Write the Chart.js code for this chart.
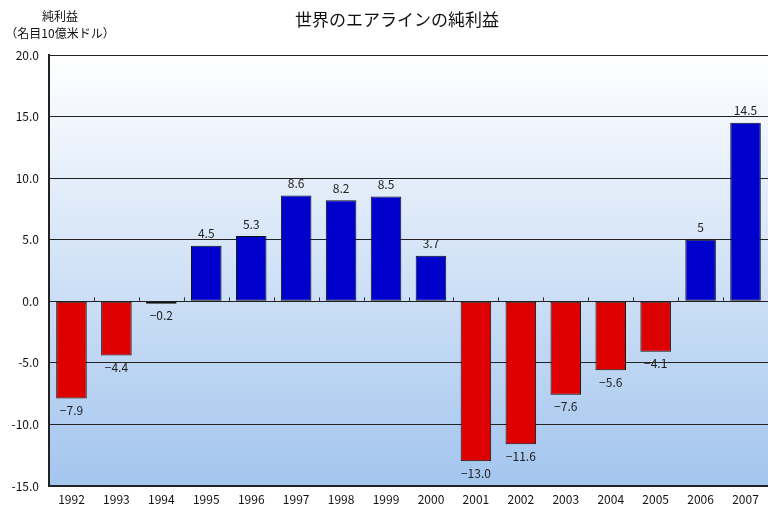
<!DOCTYPE html>
<html>
<head>
<meta charset="utf-8">
<script src="https://cdn.jsdelivr.net/npm/chart.js@4/dist/chart.umd.min.js"></script>
<style>
  html, body { margin: 0; padding: 0; background: #fff; }
  #wrap { width: 768px; height: 508px; }
</style>
</head>
<body>
<div id="wrap"><canvas id="chart"></canvas></div>
<script>
const years = ["1992", "1993", "1994", "1995", "1996", "1997", "1998", "1999",
  "2000", "2001", "2002", "2003", "2004", "2005", "2006", "2007"];
const netProfit = [-7.9, -4.4, -0.2, 4.5, 5.3, 8.6, 8.2, 8.5,
  3.7, -13.0, -11.6, -7.6, -5.6, -4.1, 5.0, 14.5];
const valueLabels = ["\u22127.9", "\u22124.4", "\u22120.2", "4.5", "5.3", "8.6", "8.2", "8.5",
  "3.7", "\u221213.0", "\u221211.6", "\u22127.6", "\u22125.6", "\u22124.1", "5", "14.5"];
const yTicks = [20, 15, 10, 5, 0, -5, -10, -15];

const FONT = "'Noto Sans CJK JP', 'Noto Sans', sans-serif";

const backdrop = {
  id: "backdrop",
  beforeDraw(chart) {
    const { ctx, chartArea: a } = chart;
    const g = ctx.createLinearGradient(0, a.top, 0, a.bottom);
    g.addColorStop(0, "#ffffff");
    g.addColorStop(1, "#a3c5ee");
    ctx.save();
    ctx.fillStyle = g;
    ctx.fillRect(a.left, a.top, a.right - a.left, a.bottom - a.top);
    ctx.restore();
  },
  afterDatasetsDraw(chart) {
    const { ctx, chartArea: a } = chart;
    const x = chart.scales.x, y = chart.scales.y;
    const y0 = y.getPixelForValue(0);
    ctx.save();
    // little ticks on the zero line between categories
    ctx.strokeStyle = "#333";
    ctx.lineWidth = 1;
    const step = x.getPixelForValue(1) - x.getPixelForValue(0);
    for (let i = 1; i < years.length; i++) {
      const px = Math.round(x.getPixelForValue(i) - step / 2) + 0.5;
      ctx.beginPath();
      ctx.moveTo(px, y0);
      ctx.lineTo(px, y0 - 4);
      ctx.stroke();
    }
    // bottom axis line
    ctx.strokeStyle = "#222";
    ctx.lineWidth = 2;
    ctx.beginPath();
    ctx.moveTo(a.left, a.bottom);
    ctx.lineTo(a.right, a.bottom);
    ctx.stroke();
    // value labels
    ctx.fillStyle = "#222";
    ctx.font = "12px " + FONT;
    ctx.textAlign = "center";
    const meta = chart.getDatasetMeta(0);
    meta.data.forEach((bar, i) => {
      if (netProfit[i] >= 0) {
        ctx.textBaseline = "bottom";
        ctx.fillText(valueLabels[i], bar.x, bar.y - 6);
      } else {
        ctx.textBaseline = "top";
        ctx.fillText(valueLabels[i], bar.x, bar.y + 6);
      }
    });
    // titles
    ctx.fillStyle = "#111";
    ctx.font = "17px " + FONT;
    ctx.textBaseline = "middle";
    ctx.fillText("世界のエアラインの純利益", 397, 20);
    ctx.font = "12px " + FONT;
    ctx.fillText("純利益", 60, 16);
    ctx.fillText("（名目10億米ドル）", 60, 33);
    ctx.restore();
  }
};

new Chart(document.getElementById("chart"), {
  type: "bar",
  data: {
    labels: years,
    datasets: [{
      data: netProfit,
      backgroundColor: netProfit.map(v => v < 0 ? "#dd0000" : "#0000cc"),
      borderColor: "#111",
      borderWidth: 1,
      borderSkipped: false,
      categoryPercentage: 1,
      barPercentage: 0.68
    }]
  },
  options: {
    responsive: true,
    maintainAspectRatio: false,
    animation: false,
    layout: { padding: { top: 55, left: 0, right: 0, bottom: 0 } },
    plugins: { legend: { display: false }, tooltip: { enabled: false }, title: { display: false } },
    scales: {
      x: {
        grid: { display: false, drawTicks: false },
        border: { display: false },
        ticks: { color: "#111", font: { family: FONT, size: 12 }, padding: 6, maxRotation: 0, autoSkip: false },
        afterFit(s) { s.height = 22; }
      },
      y: {
        min: -15,
        max: 20,
        afterBuildTicks(s) { s.ticks = yTicks.map(v => ({ value: v })); },
        grid: { color: "#222", lineWidth: 1, drawTicks: false },
        border: { display: true, color: "#222", width: 2 },
        ticks: {
          color: "#111",
          font: { family: FONT, size: 12 },
          padding: 10,
          callback: v => v.toFixed(1)
        },
        afterFit(s) { s.width = 49; }
      }
    }
  },
  plugins: [backdrop]
});
</script>
</body>
</html>
